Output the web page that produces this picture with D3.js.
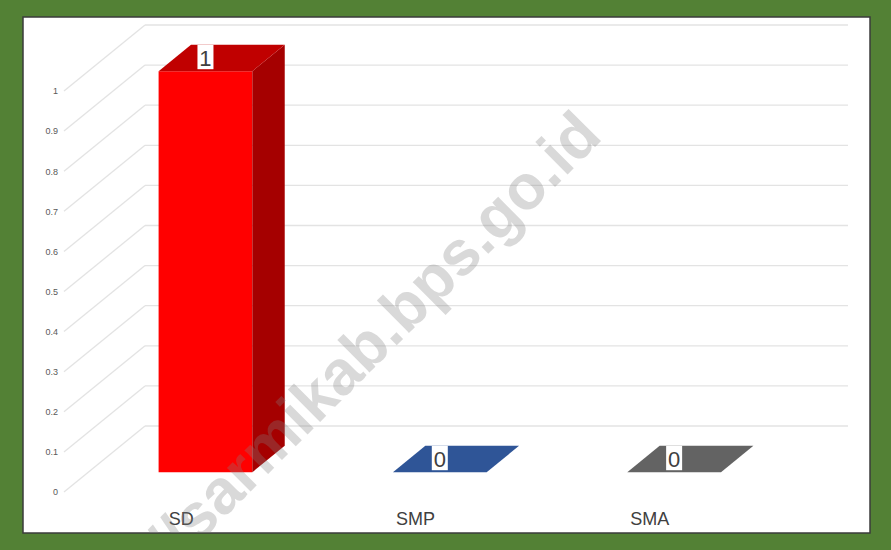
<!DOCTYPE html>
<html>
<head>
<meta charset="utf-8">
<script src="https://cdn.jsdelivr.net/npm/d3@7"></script>
<style>
  body { margin: 0; background: #538135; }
  text { font-family: "Liberation Sans Narrow", "Liberation Sans", Arial, sans-serif; }
</style>
</head>
<body>
<div id="graphic"></div>
<script>
const categories = ["SD", "SMP", "SMA"]
const values = [1, 0, 0]
const frontColors = ["#FF0000", "#2F5597", "#636363"]
const topColors = ["#C00000", "#2F5597", "#636363"]
const sideColors = ["#A50000", "#203864", "#404040"]
const yTicks = [0, 0.1, 0.2, 0.3, 0.4, 0.5, 0.6, 0.7, 0.8, 0.9, 1]

const W = 891, H = 550
const panel = { x: 23, y: 17, w: 847, h: 516 }
// depth of the 3d box: how far the back wall is shifted from the front plane
const depth = { dx: 81, dy: -66 }
const barFront = 0.3, barBack = 0.7, barShare = 0.4

let svg = d3.select("#graphic").append("svg")
    .attr("width", W)
    .attr("height", H)

svg.append("rect")
    .attr("width", W).attr("height", H)
    .attr("fill", "#538135")

svg.append("rect")
    .attr("x", panel.x).attr("y", panel.y)
    .attr("width", panel.w).attr("height", panel.h)
    .attr("fill", "#ffffff")
    .attr("stroke", "#3b3b3b")
    .attr("stroke-width", 1.5)

let y = d3.scaleLinear()
    .domain([0, 1])
    .range([492, 91])

let x = d3.scaleBand()
    .domain(categories)
    .range([64, 767])

function proj(px, py, t) {
    return [px + depth.dx * t, py + depth.dy * t]
}

// back wall gridlines
svg.selectAll(null)
    .data(yTicks)
    .enter().append("line")
    .attr("x1", x.range()[0] + depth.dx)
    .attr("x2", x.range()[1] + depth.dx)
    .attr("y1", d => y(d) + depth.dy)
    .attr("y2", d => y(d) + depth.dy)
    .attr("stroke", "#e3e3e3")
    .attr("stroke-width", 1.3)

// side wall diagonals
svg.selectAll(null)
    .data(yTicks)
    .enter().append("line")
    .attr("x1", x.range()[0])
    .attr("y1", d => y(d))
    .attr("x2", x.range()[0] + depth.dx)
    .attr("y2", d => y(d) + depth.dy)
    .attr("stroke", "#e3e3e3")
    .attr("stroke-width", 1.3)

// y axis labels
let yAxis = svg.append("g")
    .attr("transform", "translate(58,0)")
    .call(d3.axisLeft(y).tickValues(yTicks).tickSize(0).tickPadding(0).tickFormat(d3.format("~g")))
yAxis.select(".domain").remove()
yAxis.selectAll("text")
    .attr("fill", "#595959")
    .style("font-size", "9px")
    .style("font-family", "'Liberation Sans Narrow', 'Liberation Sans', sans-serif")

// bars
const bars = categories.map((c, i) => {
    const cx = x(c) + x.bandwidth() / 2
    const bw = x.bandwidth() * barShare
    return { c, i, v: values[i], x0: cx - bw / 2, x1: cx + bw / 2, cx }
})

const poly = pts => pts.map(p => p.join(",")).join(" ")

let g = svg.append("g")

bars.forEach(b => {
    const yt = y(b.v), y0 = y(0)
    if (b.v > 0) {
        // front face
        g.append("polygon")
            .attr("points", poly([proj(b.x0, yt, barFront), proj(b.x1, yt, barFront),
                proj(b.x1, y0, barFront), proj(b.x0, y0, barFront)]))
            .attr("fill", frontColors[b.i])
        // side face
        g.append("polygon")
            .attr("points", poly([proj(b.x1, yt, barFront), proj(b.x1, yt, barBack),
                proj(b.x1, y0, barBack), proj(b.x1, y0, barFront)]))
            .attr("fill", sideColors[b.i])
    }
    // top face
    g.append("polygon")
        .attr("points", poly([proj(b.x0, yt, barFront), proj(b.x1, yt, barFront),
            proj(b.x1, yt, barBack), proj(b.x0, yt, barBack)]))
        .attr("fill", topColors[b.i])

    // data label
    const [lx] = proj(b.cx, yt, barFront)
    const top = proj(b.cx, yt, barBack)[1]
    const bottom = proj(b.cx, yt, barFront)[1] - 2
    g.append("rect")
        .attr("x", lx - 8).attr("y", top)
        .attr("width", 16).attr("height", bottom - top)
        .attr("fill", "#ffffff")
    g.append("text")
        .attr("x", lx)
        .attr("y", bottom - 3)
        .attr("text-anchor", "middle")
        .attr("fill", "#404040")
        .style("font-size", "22px")
        .text(b.v)
})

// category labels
svg.selectAll(null)
    .data(categories)
    .enter().append("text")
    .attr("x", d => x(d) + x.bandwidth() / 2)
    .attr("y", 525)
    .attr("text-anchor", "middle")
    .attr("fill", "#404040")
    .style("font-size", "18px")
    .text(d => d)

// watermark, clipped to the white panel
svg.append("clipPath").attr("id", "clip")
    .append("rect")
    .attr("x", panel.x).attr("y", panel.y)
    .attr("width", panel.w).attr("height", panel.h)

svg.append("g")
    .attr("clip-path", "url(#clip)")
    .append("text")
    .attr("transform", "translate(604,138) rotate(-45)")
    .attr("text-anchor", "end")
    .attr("fill", "#808080")
    .attr("fill-opacity", 0.3)
    .style("font-family", "'Liberation Sans', Arial, sans-serif")
    .style("font-weight", "bold")
    .style("font-size", "63px")
    .text("https://sarmikab.bps.go.id")
</script>
</body>
</html>
